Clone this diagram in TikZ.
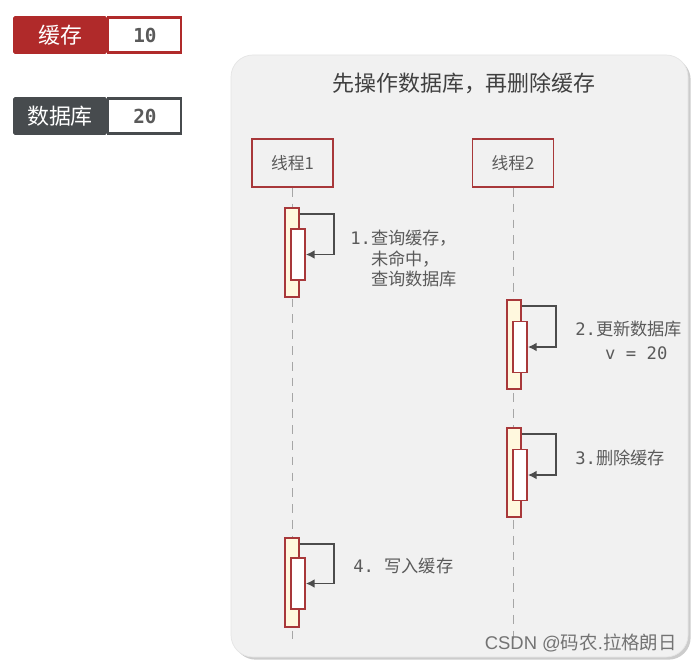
\documentclass[tikz,border=0pt]{standalone}
\usepackage{fontspec}
\setmainfont{Noto Sans CJK SC}
\setmonofont{DejaVu Sans Mono}
\newfontfamily\markfont{Liberation Sans}
\usepackage{xcolor}
\usetikzlibrary{arrows.meta,positioning,shadows}
\definecolor{cachered}{HTML}{B02A2A}
\definecolor{dbgray}{HTML}{474B4E}
\definecolor{linered}{HTML}{A8383A}
\definecolor{actfill}{HTML}{FFF8DE}
\definecolor{panelbg}{HTML}{F1F1F1}
\definecolor{txtgray}{HTML}{5A5A5A}

\begin{document}
\begin{tikzpicture}[x=0.02cm,y=-0.02cm,
  key/.style={minimum width=1.88cm,minimum height=0.76cm,inner sep=0pt,rounded corners=1pt,
    text=white,font=\fontsize{12.5}{14}\selectfont},
  val/.style={draw,fill=white,line width=1.2pt,minimum width=1.46cm,minimum height=0.7cm,inner sep=0pt,
    text=txtgray,font=\fontsize{11}{12}\selectfont\ttfamily\bfseries},
  thread/.style={draw=linered,fill=panelbg,line width=1pt,minimum width=1.62cm,minimum height=0.96cm,
    text=txtgray,font=\fontsize{9.5}{11}\selectfont},
  act/.style={draw=linered,fill=actfill,line width=0.9pt,minimum width=0.28cm,minimum height=1.78cm,inner sep=0pt},
  sub/.style={act,fill=white,minimum height=1.02cm},
  self/.style={draw=black!70,line width=1pt,-{Latex[length=5pt,width=5pt]}},
  life/.style={draw=black!35,dash pattern=on 5pt off 4pt},
  note/.style={anchor=west,align=left,inner sep=0pt,text=txtgray,font=\fontsize{9.8}{10.5}\selectfont}]
  \useasboundingbox[fill=white] (0,0) rectangle (695,662);

  \node[key,fill=cachered] (cache) at (60,35) {缓存};
  \node[val,draw=cachered,right=0pt of cache] (cacheval) {10};
  \node[key,fill=dbgray] (db) at (60,116) {数据库};
  \node[val,draw=dbgray,right=0pt of db] (dbval) {20};

  \path[draw=black!10,fill=panelbg,rounded corners=0.44cm,
    drop shadow={shadow xshift=1.5pt,shadow yshift=-1.5pt,opacity=0.4}] (231,55) rectangle (688,657);
  \node[text=black!75,font=\fontsize{12.5}{14}\selectfont] (title) at (464,83) {先操作数据库，再删除缓存};

  \node[thread] (t_1) at (292.5,163) {线程1};
  \node[thread] (t_2) at (513,163) {线程2};
  \coordinate (e_1) at (292.5,642);
  \coordinate (e_2) at (513,642);
  \draw[life] (t_1) -- (e_1);
  \draw[life] (t_2) -- (e_2);

  \node[act] (a_1) at (292,252.5) {};
  \node[sub] (s_1) at (298,254.5) {};
  \node[act] (a_2) at (514,344.5) {};
  \node[sub] (s_2) at (520,347) {};
  \node[act] (a_3) at (514,472.5) {};
  \node[sub] (s_3) at (520,475) {};
  \node[act] (a_4) at (292,582.5) {};
  \node[sub] (s_4) at (298,583.5) {};
  \foreach \i in {1,...,4}
    \draw[self] ([yshift=-0.14cm]a_\i.north east) -- ++(0.68cm,0pt) |- (s_\i.east);

  \node[note] (n_1) at (350,258.5) {{\ttfamily 1.}查询缓存，\\[1pt]\hphantom{\ttfamily 1.}未命中，\\[1pt]\hphantom{\ttfamily 1.}查询数据库};
  \node[note] (n_2) at (575,340.5) {{\ttfamily 2.}更新数据库\\[3pt]\hspace{17pt}{\ttfamily v = 20}};
  \node[note] (n_3) at (575,458) {{\ttfamily 3.}删除缓存};
  \node[note] (n_4) at (353,566) {{\ttfamily 4.~}写入缓存};

  \node[anchor=east,text=black!55,font=\fontsize{10.5}{12}\selectfont] (mark) at (683,643) {{\markfont CSDN @}码农{\markfont .}拉格朗日};
\end{tikzpicture}
\end{document}
